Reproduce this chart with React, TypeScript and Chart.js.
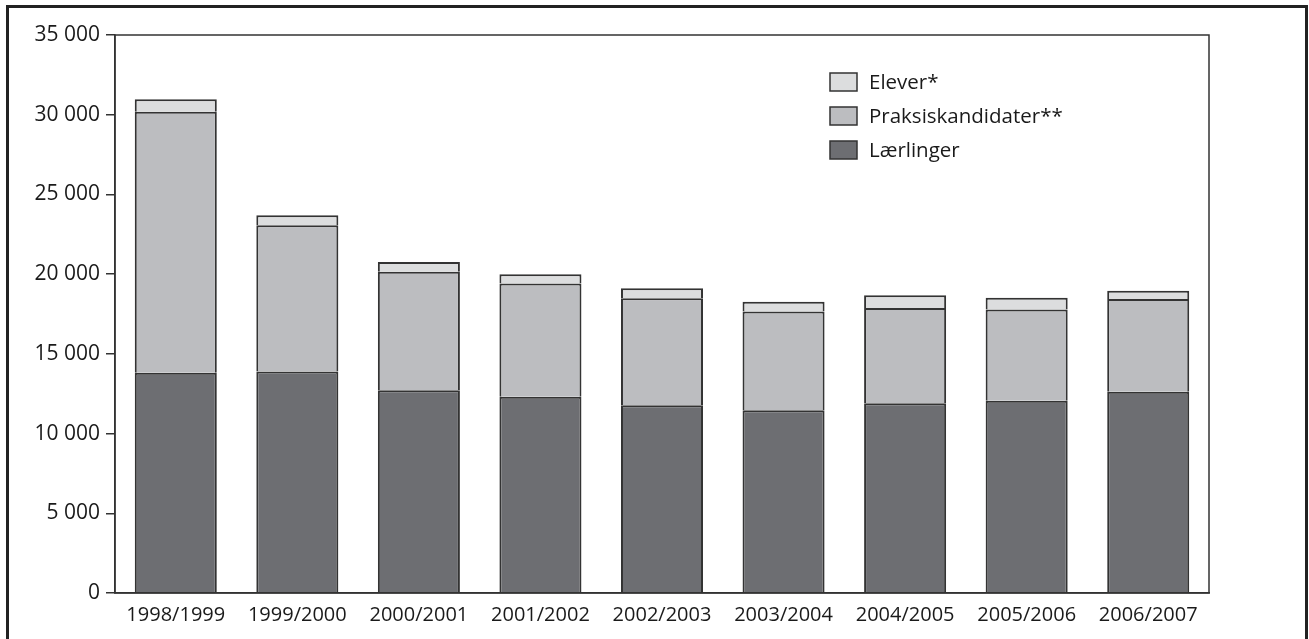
import React, { useEffect, useRef } from "react";
import { Chart, registerables } from "chart.js";

Chart.register(...registerables);

const categories = [
  "1998/1999",
  "1999/2000",
  "2000/2001",
  "2001/2002",
  "2002/2003",
  "2003/2004",
  "2004/2005",
  "2005/2006",
  "2006/2007",
];
const laerlinger = [13820, 13900, 12710, 12310, 11770, 11460, 11900, 12060, 12630];
const praksiskandidater = [16370, 9160, 7440, 7110, 6720, 6190, 5980, 5730, 5810];
const elever = [780, 630, 610, 570, 620, 620, 790, 730, 520];

const seriesLabels = ["Lærlinger", "Praksiskandidater**", "Elever*"];
const seriesColors = ["#6d6e72", "#bcbdc0", "#dcddde"];

const yTickValues = [0, 5000, 10000, 15000, 20000, 25000, 30000, 35000];

const FONT = "'Open Sans', 'Noto Sans', sans-serif";
const INK = "#333333";
const TEXT = "#1a1a1a";

function fmt(v: number): string {
  if (v < 1000) return String(v);
  return `${Math.floor(v / 1000)} ${String(v % 1000).padStart(3, "0")}`;
}

const framePlugin = {
  id: "framePlugin",
  afterDatasetsDraw(chart: any) {
    const { ctx, chartArea } = chart;
    ctx.save();
    // plot box
    ctx.strokeStyle = INK;
    ctx.lineWidth = 1.5;
    ctx.strokeRect(
      chartArea.left,
      chartArea.top,
      chartArea.right - chartArea.left,
      chartArea.bottom - chartArea.top
    );
    // outer frame
    ctx.lineWidth = 3;
    ctx.strokeStyle = "#222222";
    ctx.beginPath();
    ctx.moveTo(7.5, chart.height + 10);
    ctx.lineTo(7.5, 6.5);
    ctx.lineTo(1306.5, 6.5);
    ctx.lineTo(1306.5, chart.height + 10);
    ctx.stroke();

    // legend (reverse order of stacking)
    const ds = chart.data.datasets;
    const order = [2, 1, 0];
    const boxW = 27;
    const boxH = 18;
    const x0 = chartArea.left + 715;
    const centers = [82, 116, 150];
    ctx.font = `20.5px ${FONT}`;
    ctx.textBaseline = "middle";
    ctx.textAlign = "left";
    order.forEach((idx, i) => {
      const cy = chartArea.top + (centers[i] - 35);
      ctx.fillStyle = ds[idx].backgroundColor;
      ctx.fillRect(x0, cy - boxH / 2, boxW, boxH);
      ctx.lineWidth = 1.5;
      ctx.strokeStyle = INK;
      ctx.strokeRect(x0, cy - boxH / 2, boxW, boxH);
      ctx.fillStyle = TEXT;
      ctx.fillText(ds[idx].label, x0 + 39, cy + 1);
    });
    ctx.restore();
  },
};

export default function App() {
  const canvasRef = useRef<HTMLCanvasElement | null>(null);

  useEffect(() => {
    document.body.style.margin = "0";
    const canvas = canvasRef.current;
    if (!canvas) return;
    const values = [laerlinger, praksiskandidater, elever];
    const chart = new Chart(canvas, {
      type: "bar",
      data: {
        labels: categories,
        datasets: values.map((v, i) => ({
          label: seriesLabels[i],
          data: v,
          backgroundColor: seriesColors[i],
          borderColor: INK,
          borderWidth: { left: 2, right: 2, top: 2, bottom: 0 },
          borderSkipped: false,
          categoryPercentage: 1,
          barPercentage: 0.675,
        })),
      },
      options: {
        animation: false,
        responsive: false,
        maintainAspectRatio: false,
        layout: { padding: { left: 0, right: 100, top: 35, bottom: 0 } },
        plugins: {
          legend: { display: false },
          tooltip: { enabled: false },
        },
        scales: {
          x: {
            stacked: true,
            grid: { drawOnChartArea: false, drawTicks: false, display: true },
            border: { display: true, color: INK, width: 1.5 },
            ticks: {
              color: TEXT,
              font: { family: FONT, size: 20 },
              padding: 10,
              maxRotation: 0,
              autoSkip: false,
            },
            afterFit(scale: any) {
              scale.height = 46;
            },
          },
          y: {
            stacked: true,
            min: 0,
            max: 35000,
            afterBuildTicks(scale: any) {
              scale.ticks = yTickValues.map((v) => ({ value: v }));
            },
            grid: {
              drawOnChartArea: false,
              drawTicks: true,
              tickLength: 9,
              color: INK,
              lineWidth: 1.5,
            },
            border: { display: true, color: INK, width: 1.5 },
            ticks: {
              color: TEXT,
              font: { family: FONT, size: 21 },
              padding: 6,
              callback: (v: any) => fmt(Number(v)),
            },
            afterFit(scale: any) {
              scale.width = 115;
            },
          },
        },
      },
      plugins: [framePlugin],
    });
    return () => chart.destroy();
  }, []);

  return (
    <div style={{ position: "absolute", left: 0, top: 0, width: 1309, height: 639, background: "#fff" }}>
      <canvas ref={canvasRef} width={1309} height={639} style={{ display: "block" }} />
    </div>
  );
}
